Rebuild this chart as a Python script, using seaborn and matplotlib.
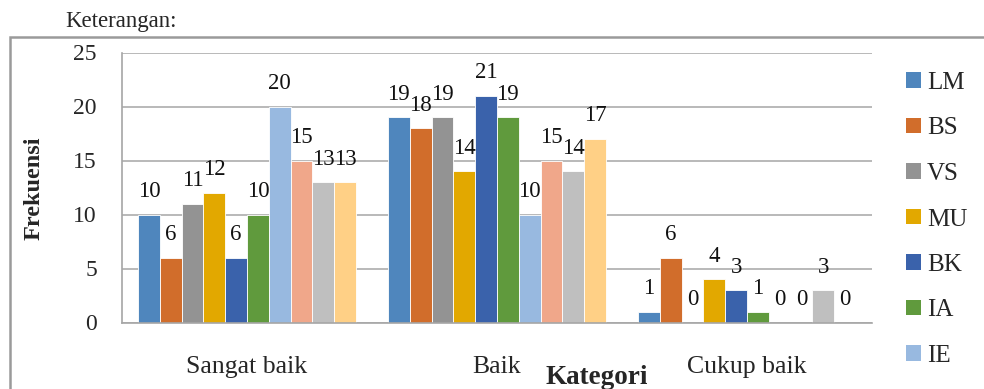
import numpy as np
import pandas as pd
import matplotlib
matplotlib.use("Agg")
import matplotlib.pyplot as plt
import seaborn as sns
from matplotlib.patches import Rectangle, Patch

# Frequency of each rating per component
categories = ["Sangat baik", "Baik", "Cukup baik"]
series = ["LM", "BS", "VS", "MU", "BK", "IA", "IE", "PK", "KS", "HS"]
sangat_baik = [10, 6, 11, 12, 6, 10, 20, 15, 13, 13]
baik = [19, 18, 19, 14, 21, 19, 10, 15, 14, 17]
cukup_baik = [1, 6, 0, 4, 3, 1, 0, 0, 3, 0]
y_ticks = [0, 5, 10, 15, 20, 25]

colors = ["#4F86BD", "#D16D2B", "#939393", "#E2A800", "#3A62AB",
          "#609A3D", "#98B9E0", "#F0A78A", "#BFBFBF", "#FFD086"]

# series listed in the key box (the box is cut by the page edge after IE)
legend_series = series[:7]

df = pd.DataFrame({
    "Kategori": np.repeat(categories, len(series)),
    "Seri": series * len(categories),
    "Frekuensi": sangat_baik + baik + cukup_baik,
})

sns.set_theme(style="white")
plt.rcParams["font.family"] = ["Liberation Serif", "DejaVu Serif"]

W, H = 984, 389
fig = plt.figure(figsize=(W / 100, H / 100), dpi=100)
fig.patch.set_facecolor("white")
ax = fig.add_axes([122 / W, 1 - 322.5 / H, 750 / W, 270 / H])

sns.barplot(data=df, x="Kategori", y="Frekuensi", hue="Seri",
            order=categories, hue_order=series, palette=colors,
            width=0.872, gap=0, saturation=1, errorbar=None,
            edgecolor="white", linewidth=0.6, legend=False, ax=ax)

for cont in ax.containers:
    ax.bar_label(cont, fmt="%g", padding=9, fontsize=16.5, color="#111111")

grid_c = "#a6a6a6"
ax.set_xlim(-0.5, 2.5)
ax.set_ylim(0, 25)
ax.set_yticks(y_ticks)
ax.yaxis.grid(True, color=grid_c, lw=1.1)
ax.set_axisbelow(True)
for s in ["top", "right"]:
    ax.spines[s].set_visible(False)
for s in ["left", "bottom"]:
    ax.spines[s].set_color(grid_c)
    ax.spines[s].set_linewidth(1.2)

ax.set_xticks([-0.5, 0.5, 1.5, 2.5], minor=True)
ax.tick_params(axis="x", which="major", length=0, pad=24, labelsize=18.5)
ax.tick_params(axis="x", which="minor", length=6, width=1.1, color=grid_c,
               direction="out")
ax.tick_params(axis="y", length=5, width=1.1, color=grid_c, direction="out",
               pad=13, labelsize=17)
ax.set_xlabel("")
ax.set_ylabel("")

fig.text(34 / W, 1 - 188 / H, "Frekuensi", rotation=90, ha="center",
         va="center", fontsize=17.5, fontweight="bold")
fig.text(597 / W, 1 - 377 / H, "Kategori", ha="center", va="center",
         fontsize=19.5, fontweight="bold")
fig.text(65 / W, 1 - 22 / H, "Keterangan:", ha="left", va="center",
         fontsize=16.5)

handles = [Patch(facecolor=c, edgecolor="none") for c in colors[:7]]
fig.legend(handles, legend_series, loc="upper left",
           bbox_to_anchor=(906 / W, 1 - 72 / H), frameon=False,
           fontsize=18, handlelength=0.58, handleheight=0.58,
           handletextpad=0.25, labelspacing=0.94, borderpad=0,
           borderaxespad=0)

frame = Rectangle((9.5 / W, -0.2), 1.5, (1 - 37 / H) + 0.2,
                  transform=fig.transFigure, fill=False,
                  edgecolor="#9a9a9a", lw=1.8, clip_on=False)
fig.add_artist(frame)

fig.savefig("out.png", dpi=100)
